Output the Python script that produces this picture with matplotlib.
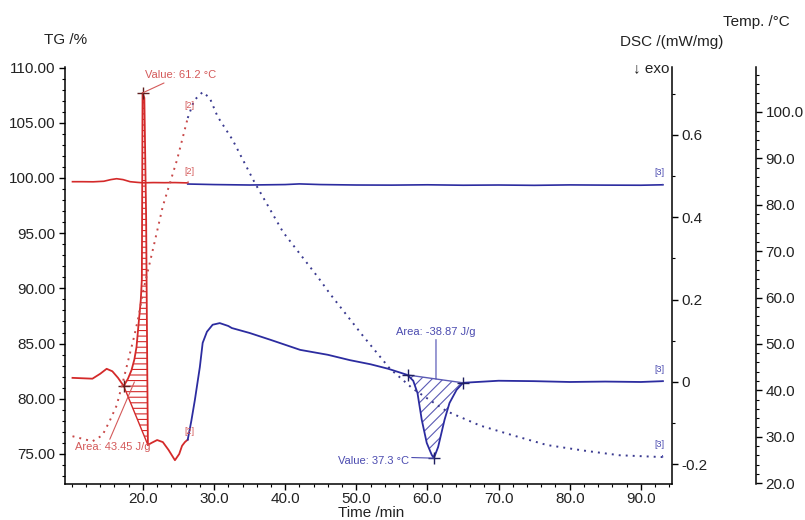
import numpy as np
import matplotlib.pyplot as plt
from matplotlib.ticker import MultipleLocator, FuncFormatter

plt.rcParams['font.family'] = ['Liberation Sans', 'DejaVu Sans']
plt.rcParams['hatch.linewidth'] = 0.8

RED = '#d42a2a'
BLUE = '#2c2ca0'
RED_TXT = '#d45a5a'
BLUE_TXT = '#4b4bb0'

# TG /% (segment [2] red, segment [3] blue)
tg_red_t = [10.1, 11.5, 13.0, 14.5, 15.5, 16.3, 17.2, 18.2, 19.2, 20.0, 21.5, 23.0, 24.5, 26.3]
tg_red = [99.66, 99.66, 99.65, 99.70, 99.85, 99.93, 99.85, 99.66, 99.60, 99.56, 99.58, 99.57, 99.58, 99.55]
tg_blue_t = [26.3, 30, 35, 40, 42, 45, 50, 55, 60, 65, 70, 75, 80, 85, 90, 93.1]
tg_blue = [99.45, 99.40, 99.36, 99.40, 99.46, 99.40, 99.36, 99.35, 99.38, 99.34, 99.36, 99.33, 99.37, 99.35, 99.34, 99.38]

# DSC /(mW/mg)
dsc_red_t = [10.1, 11.5, 12.9, 14.0, 14.9, 15.7, 16.5, 17.3, 17.9, 18.4, 18.8, 19.1, 19.4, 19.7,
             19.85, 19.95, 20.2, 20.45, 20.6, 20.7, 21.2, 22.0, 22.8, 23.6, 24.5, 25.1, 25.5, 25.9, 26.3]
dsc_red = [0.010, 0.009, 0.008, 0.020, 0.032, 0.026, 0.010, -0.010, 0.008, 0.029, 0.055, 0.085, 0.143, 0.199,
           0.25, 0.702, 0.69, 0.40, 0.05, -0.153, -0.148, -0.141, -0.146, -0.165, -0.190, -0.175, -0.155, -0.146, -0.140]
dsc_blue_t = [26.3, 26.8, 27.3, 28.0, 28.4, 29.0, 29.8, 30.8, 32.0, 32.5, 35.0, 38.0, 42.1, 46.0, 49.1, 52.0, 54.5,
              57.2, 58.0, 58.6, 59.2, 59.9, 60.6, 60.9, 61.5, 62.4, 63.1, 64.1, 65.0, 70, 75, 80, 85, 90, 93.1]
dsc_blue = [-0.140, -0.095, -0.044, 0.036, 0.095, 0.122, 0.139, 0.143, 0.136, 0.131, 0.119, 0.102, 0.078, 0.066,
            0.053, 0.043, 0.032, 0.017, 0.003, -0.027, -0.092, -0.148, -0.177, -0.185, -0.158, -0.092, -0.051,
            -0.019, -0.002, 0.003, 0.002, 0.0, 0.001, 0.0, 0.002]

# Temp. /°C
temp_red_t = [10.1, 12.9, 14.3, 15.3, 16.3, 17.2, 18.1, 18.8, 19.4, 20.0, 21.5, 22.8, 24.8, 26.3]
temp_red = [30.1, 29.0, 30.3, 33.3, 36.7, 41.9, 47.5, 51.8, 56.0, 61.2, 71.0, 79.7, 89.7, 98.7]
temp_blue_t = [26.3, 27.2, 28.4, 29.4, 30.5, 32.6, 35.7, 39.7, 44.6, 46.3, 50.9, 54.7, 57.9, 60.9,
               62.7, 67.4, 72.0, 76.8, 82.0, 87.0, 93.1]
temp_blue = [98.7, 102.5, 104.3, 103.0, 99.0, 94.0, 84.8, 74.1, 64.4, 60.8, 51.8, 44.7, 40.4, 37.3,
             35.5, 32.4, 30.3, 28.2, 27.0, 26.0, 25.6]

# peak evaluation
red_area_lims = (17.3, 20.7)
blue_area_lims = (57.2, 65.0)
red_marks = [17.3, 19.95]
blue_marks = [57.2, 60.9, 65.0]

fig = plt.figure(figsize=(8.05, 5.2), dpi=100)
ax = fig.add_axes([0.0807, 0.0692, 0.754, 0.802])
ax_dsc = ax.twinx()
ax_temp = ax.twinx()
ax_temp.spines['right'].set_position(('axes', 1.138))

for a in (ax, ax_dsc, ax_temp):
    a.spines['top'].set_visible(False)
    for s in a.spines.values():
        s.set_linewidth(1.1)
ax.spines['right'].set_visible(False)
for a in (ax_dsc, ax_temp):
    a.spines['left'].set_visible(False)
    a.spines['bottom'].set_visible(False)

# curves
dotted = (0, (1, 2.6))
ax_temp.plot(temp_red_t, temp_red, color='#c84848', lw=1.4, ls=dotted)
ax_temp.plot(temp_blue_t, temp_blue, color='#3a3a90', lw=1.4, ls=dotted)
ax.plot(tg_red_t, tg_red, color=RED, lw=1.2)
ax.plot(tg_blue_t, tg_blue, color=BLUE, lw=1.2)
ax_dsc.plot(dsc_red_t, dsc_red, color=RED, lw=1.3)
ax_dsc.plot(dsc_blue_t, dsc_blue, color=BLUE, lw=1.3)

# integrated areas
for t, d, lims, col, hatch in ((dsc_red_t, dsc_red, red_area_lims, RED, '---'),
                               (dsc_blue_t, dsc_blue, blue_area_lims, '#5a5ab4', '///')):
    t = np.array(t)
    d = np.array(d)
    m = (t >= lims[0]) & (t <= lims[1])
    b0, b1 = np.interp(lims, t, d)
    base = np.interp(t[m], lims, [b0, b1])
    ax_dsc.fill_between(t[m], d[m], base, facecolor='none', edgecolor=col, hatch=hatch, lw=0)
    ax_dsc.plot(lims, [b0, b1], color=col, lw=1.0)

ax_dsc.plot(red_marks, np.interp(red_marks, dsc_red_t, dsc_red), '+', color='#602020', ms=8, mew=1)
ax_dsc.plot(blue_marks, np.interp(blue_marks, dsc_blue_t, dsc_blue), '+', color='#202060', ms=8, mew=1)

# annotations
fs = 8
ax_dsc.annotate('Value: 61.2 °C', xy=(19.95, 0.702), xytext=(20.3, 0.745), color=RED_TXT, fontsize=fs,
                va='center', arrowprops=dict(arrowstyle='-', color=RED_TXT, lw=0.8, shrinkA=0, shrinkB=0,
                                             relpos=(0.35, 0.0)))
ax_dsc.annotate('Area: 43.45 J/g', xy=(18.8, 0.0), xytext=(10.4, -0.158), color=RED_TXT, fontsize=fs,
                va='center', arrowprops=dict(arrowstyle='-', color=RED_TXT, lw=0.8, shrinkA=0, shrinkB=0,
                                             relpos=(0.45, 1.0)))
ax_dsc.annotate('Area: -38.87 J/g', xy=(61.2, 0.007), xytext=(61.2, 0.122), color=BLUE_TXT, fontsize=fs,
                ha='center', va='center', arrowprops=dict(arrowstyle='-', color=BLUE_TXT, lw=0.8,
                                                          shrinkA=0, shrinkB=0, relpos=(0.5, 0.0)))
ax_dsc.annotate('Value: 37.3 °C', xy=(60.9, -0.185), xytext=(47.4, -0.193), color=BLUE_TXT, fontsize=fs,
                va='center', arrowprops=dict(arrowstyle='-', color=BLUE_TXT, lw=0.8, shrinkA=0, shrinkB=0,
                                             relpos=(0.5, 1.0)))

# segment labels
lab = dict(fontsize=6.5, ha='center', va='center')
ax_temp.annotate('[2]', xy=(26.2, 98.0), xytext=(26.6, 101.5), color=RED_TXT, **lab)
ax.annotate('[2]', xy=(26.3, 99.5), xytext=(26.6, 100.6), color=RED_TXT, **lab,
            arrowprops=dict(arrowstyle='-', color=RED_TXT, lw=0.7, shrinkA=2, shrinkB=0))
ax_dsc.annotate('[2]', xy=(26.3, -0.143), xytext=(26.6, -0.121), color=RED_TXT, **lab)
for a, y_txt, y_pt in ((ax, 100.45, 99.38), (ax_dsc, 0.030, 0.002), (ax_temp, 28.4, 25.6)):
    a.annotate('[3]', xy=(93.1, y_pt), xytext=(92.6, y_txt), color=BLUE_TXT, **lab,
               arrowprops=dict(arrowstyle='-', color=BLUE_TXT, lw=0.7, shrinkA=3, shrinkB=0))

# limits and ticks
ax.set_xlim(9.04, 94.37)
ax.set_ylim(72.28, 110.05)
ax_dsc.set_ylim(-0.2478, 0.765)
ax_temp.set_ylim(19.8, 109.7)

ax.xaxis.set_minor_locator(MultipleLocator(2))
ax.set_xticks([20, 30, 40, 50, 60, 70, 80, 90])
ax.xaxis.set_major_formatter(FuncFormatter(lambda v, p: f'{v:.1f}'))
ax.yaxis.set_major_locator(MultipleLocator(5))
ax.yaxis.set_minor_locator(MultipleLocator(1))
ax.yaxis.set_major_formatter(FuncFormatter(lambda v, p: f'{v:.2f}'))
ax_dsc.set_yticks([-0.2, 0.0, 0.2, 0.4, 0.6])
ax_dsc.yaxis.set_minor_locator(MultipleLocator(0.1))
ax_dsc.yaxis.set_major_formatter(FuncFormatter(lambda v, p: '0' if abs(v) < 1e-9 else f'{v:.1f}'))
ax_temp.set_yticks(range(20, 101, 10))
ax_temp.yaxis.set_minor_locator(MultipleLocator(2))
ax_temp.yaxis.set_major_formatter(FuncFormatter(lambda v, p: f'{v:.1f}'))

for a in (ax, ax_dsc, ax_temp):
    a.tick_params(which='major', length=4, width=1, labelsize=11, labelcolor='#222222', pad=3)
    a.tick_params(which='minor', length=2.5, width=0.8)
ax.tick_params(axis='x', which='major', pad=1.5)

fig.text(0.081, 0.923, 'TG /%', fontsize=11, ha='center', va='center', color='#222222')
fig.text(0.834, 0.919, 'DSC /(mW/mg)', fontsize=11, ha='center', va='center', color='#222222')
fig.text(0.939, 0.958, 'Temp. /°C', fontsize=11, ha='center', va='center', color='#222222')
fig.text(0.832, 0.869, '↓ exo', fontsize=11, ha='right', va='center', color='#222222')
fig.text(0.461, 0.013, 'Time /min', fontsize=11, ha='center', va='center', color='#222222')

fig.savefig('out.png', dpi=100)
